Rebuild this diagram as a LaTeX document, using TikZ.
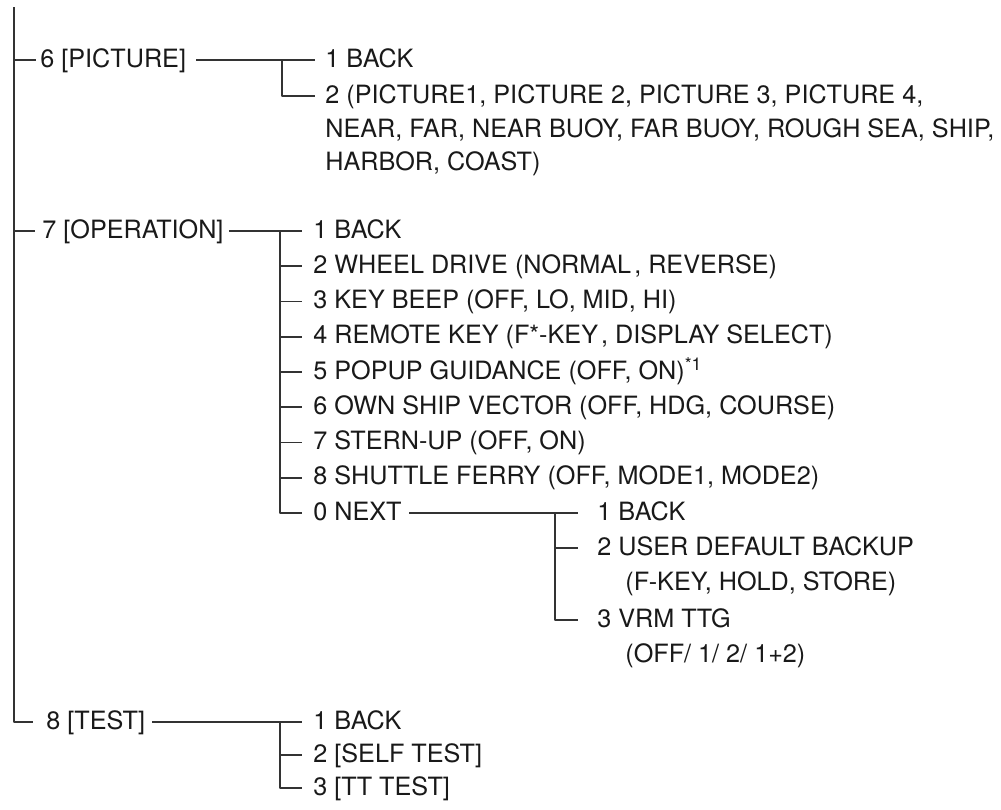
\documentclass[tikz,border=0pt]{standalone}
\usepackage{fontspec}
\setmainfont{TeX Gyre Heros}
\tikzset{
	menu/.style={anchor=west, inner sep=0pt, text height=.72em, text depth=0pt, text=black!90},
	twig/.style={draw=black!80, line width=.8pt}
}
\begin{document}
\begin{tikzpicture}[x=.5pt, y=-.5pt, font=\fontsize{12.6}{15}\selectfont, line join=round]
	\useasboundingbox (0,0) rectangle (1001,809);
	% main entries on the trunk
	\coordinate (top) at (14,7);
	\node[menu] (pic) at (40,60) {6 [PICTURE]};
	\node[menu] (op) at (42,231) {7 [OPERATION]};
	\node[menu] (test) at (46,722) {8 [TEST]};
	\draw[twig, shorten >=6.5pt] (top) |- (test.west);
	\draw[twig, shorten >=2pt] (top |- pic.west) -- (pic.west);
	\draw[twig, shorten >=3.5pt] (top |- op.west) -- (op.west);
	
	% 6 [PICTURE]
	\node[menu] (pc1) at (325,60) {1 BACK};
	\node[menu] (pc2) at (325,96) {2 (PICTURE1, PICTURE 2, PICTURE 3, PICTURE 4,};
	\node[menu] (pc2b) at (325,130) {NEAR, FAR, NEAR BUOY, FAR BUOY, ROUGH SEA, SHIP,};
	\node[menu] (pc2c) at (325,163) {HARBOR, COAST)};
	\coordinate (picbr) at (282,60);
	\draw[twig, shorten <=5pt, shorten >=5pt] (pic.east) -- (pc1.west);
	\draw[twig, shorten >=5pt] (picbr) |- (pc2.west);
	
	% 7 [OPERATION]
	\foreach \i/\t in {1/{1 BACK}, 2/{2 WHEEL DRIVE (NORMAL\kern1.5pt, REVERSE)},
		3/{3 KEY BEEP (OFF, LO, MID, HI)}, 4/{4 REMOTE KEY (F*-KEY\kern1.5pt, DISPLAY SELECT)},
		5/{5 POPUP GUIDANCE (OFF, ON)\textsuperscript{*1}}, 6/{6 OWN SHIP VECTOR (OFF, HDG, COURSE)},
		7/{7 STERN-UP (OFF, ON)}, 8/{8 SHUTTLE FERRY (OFF, MODE1, MODE2)}, 9/{0 NEXT}}
	\node[menu] (op\i) at (313,{231+35.25*(\i-1)}) {\t};
	\coordinate (opbr) at (280,231);
	\draw[twig, shorten <=2.5pt, shorten >=5.5pt] (op.east) -- (op1.west);
	\draw[twig, shorten >=5.5pt] (opbr) |- (op9.west);
	\foreach \i in {2,...,8}
	\draw[twig, shorten >=5.5pt] (opbr |- op\i.west) -- (op\i.west);
	
	% 0 NEXT
	\node[menu] (nx1) at (597,513) {1 BACK};
	\node[menu] (nx2) at (597,548) {2 USER DEFAULT BACKUP};
	\node[menu] (nx2b) at (625,583) {(F-KEY, HOLD, STORE)};
	\node[menu] (nx3) at (597,620) {3 VRM TTG};
	\node[menu] (nx3b) at (625,655) {(OFF/ 1/ 2/ 1+2)};
	\coordinate (nxbr) at (555,513);
	\draw[twig, shorten <=3.5pt, shorten >=9.5pt] (op9.east) -- (nx1.west);
	\draw[twig, shorten >=9.5pt] (nxbr) |- (nx3.west);
	\draw[twig, shorten >=9.5pt] (nxbr |- nx2.west) -- (nx2.west);
	
	% 8 [TEST]
	\node[menu] (ts1) at (313,722) {1 BACK};
	\node[menu] (ts2) at (313,755) {2 [SELF TEST]};
	\node[menu] (ts3) at (313,788) {3 [TT TEST]};
	\coordinate (tsbr) at (280,722);
	\draw[twig, shorten <=3.5pt, shorten >=5.5pt] (test.east) -- (ts1.west);
	\draw[twig, shorten >=5.5pt] (tsbr) |- (ts3.west);
	\draw[twig, shorten >=5.5pt] (tsbr |- ts2.west) -- (ts2.west);
\end{tikzpicture}
\end{document}
